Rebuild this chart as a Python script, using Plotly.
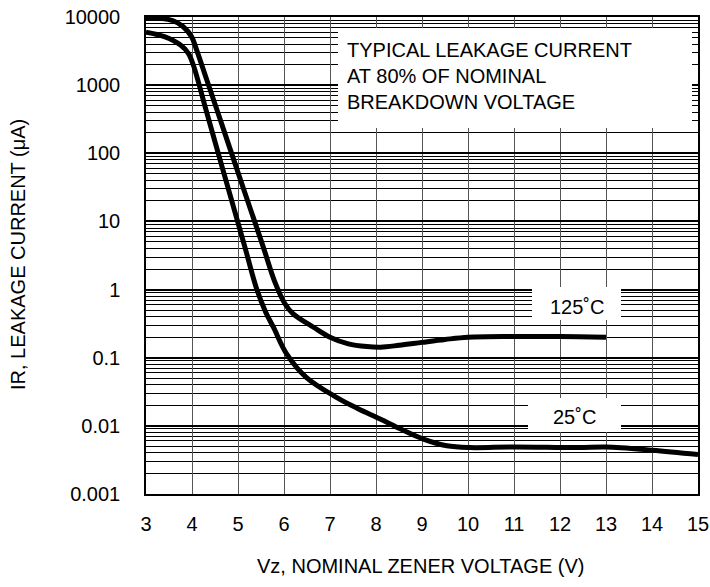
import plotly.graph_objects as go

# ---- data ----
x_125 = [3.0, 3.3, 3.59, 3.81, 3.99, 4.1, 4.32, 4.54, 4.89, 5.28, 5.55, 5.8, 6.02, 6.2,
         6.64, 7.0, 7.4, 7.8, 8.1, 8.5, 9.0, 9.5, 10.0, 11.0, 12.0, 13.0]
y_125 = [9800, 9600, 8800, 7200, 5150, 3300, 1200, 440, 87, 14.5, 4.2, 1.3, 0.62, 0.44,
         0.28, 0.20, 0.16, 0.146, 0.143, 0.152, 0.168, 0.185, 0.2, 0.205, 0.205, 0.2]

x_25 = [3.0, 3.4, 3.75, 3.92, 4.03, 4.3, 4.6, 4.9, 5.15, 5.41, 5.6, 5.77, 6.06, 6.49,
        7.15, 7.6, 8.09, 8.55, 9.03, 9.54, 10.04, 11.0, 12.4, 13.0, 14.0, 15.0]
y_25 = [6000, 5150, 3870, 2930, 1960, 444, 85, 16.5, 4.2, 1.0, 0.47, 0.28, 0.113, 0.051,
        0.026, 0.018, 0.0126, 0.0089, 0.0064, 0.0051, 0.0048, 0.0049, 0.0048, 0.0049,
        0.0044, 0.0038]

x_ticks = list(range(3, 16))
y_ticks = [0.001, 0.01, 0.1, 1, 10, 100, 1000, 10000]
y_tick_text = ["0.001", "0.01", "0.1", "1", "10", "100", "1000", "10000"]
y_minor = [m * 10.0 ** e for e in range(-3, 4) for m in range(2, 10)]

label_125 = "125˚C"
label_25 = "25˚C"
note_text = "TYPICAL LEAKAGE CURRENT<br>AT 80% OF NOMINAL<br>BREAKDOWN VOLTAGE"
x_title = "Vz, NOMINAL ZENER VOLTAGE (V)"
y_title = "IR, LEAKAGE CURRENT (μA)"

# ---- layout geometry (page pixels) ----
W, H = 710, 587
L, R, T, B = 146, 698, 17, 494   # plot frame


def px(xpix):
    return (xpix - L) / (R - L)


def py(ypix):
    return (B - ypix) / (B - T)


FONT = "Liberation Sans, Arial, Helvetica, sans-serif"

fig = go.Figure()
for xs, ys in [(x_125, y_125), (x_25, y_25)]:
    fig.add_trace(go.Scatter(x=xs, y=ys, mode="lines",
                             line=dict(color="black", width=5, shape="spline", smoothing=1),
                             showlegend=False, hoverinfo="skip"))

boxes = [(338, 28, 692, 128), (532, 287, 621, 320), (528, 398, 621, 432)]
shapes = [dict(type="rect", xref="paper", yref="paper",
               x0=px(a), x1=px(c), y0=py(d), y1=py(b),
               fillcolor="white", line=dict(width=0), layer="above")
          for a, b, c, d in boxes]

annotations = [
    dict(text=note_text, xref="paper", yref="paper", x=px(345), y=py(76),
         xanchor="left", yanchor="middle", align="left", showarrow=False,
         font=dict(family=FONT, size=20, color="black")),
    dict(text=label_125, xref="paper", yref="paper", x=px(577), y=py(307),
         xanchor="center", yanchor="middle", showarrow=False,
         font=dict(family=FONT, size=20, color="black")),
    dict(text=label_25, xref="paper", yref="paper", x=px(574), y=py(417),
         xanchor="center", yanchor="middle", showarrow=False,
         font=dict(family=FONT, size=20, color="black")),
    dict(text=y_title, xref="paper", yref="paper", x=px(18), y=py(255),
         xanchor="center", yanchor="middle", textangle=-90, showarrow=False,
         font=dict(family=FONT, size=20, color="black")),
    dict(text=x_title, xref="paper", yref="paper", x=px(420), y=py(566),
         xanchor="center", yanchor="middle", showarrow=False,
         font=dict(family=FONT, size=20, color="black")),
]

fig.update_layout(
    template="none",
    width=W, height=H,
    margin=dict(l=L, r=W - R, t=T, b=H - B, pad=0, autoexpand=False),
    paper_bgcolor="white", plot_bgcolor="white",
    font=dict(family=FONT, size=20, color="black"),
    shapes=shapes, annotations=annotations,
    xaxis=dict(range=[3, 15], tickmode="array", tickvals=x_ticks, automargin=False,
               showgrid=True, gridcolor="#555555", gridwidth=1,
               showline=True, mirror=True, linecolor="black", linewidth=1.5,
               zeroline=False, ticks="", ticklabelstandoff=11,
               ticklabeloverflow="allow",
               tickfont=dict(family=FONT, size=20, color="black")),
    yaxis=dict(type="log", range=[-3, 4], tickmode="array", tickvals=y_ticks,
               ticktext=y_tick_text, automargin=False,
               showgrid=True, gridcolor="black", gridwidth=1.5,
               minor=dict(tickmode="array", tickvals=y_minor, showgrid=True,
                          gridcolor="black", gridwidth=1, ticks=""),
               showline=True, mirror=True, linecolor="black", linewidth=1.5,
               zeroline=False, ticks="inside", ticklen=7, tickwidth=2, tickcolor="black",
               ticklabelstandoff=20, ticklabeloverflow="allow",
               tickfont=dict(family=FONT, size=20, color="black")),
)

# remove the browser's default 8px body margin so the figure fills the window exactly
fig.write_html(
    "out.html",
    config={"displayModeBar": False},
    post_script="document.body.style.margin='0';document.body.style.overflow='hidden';",
)
